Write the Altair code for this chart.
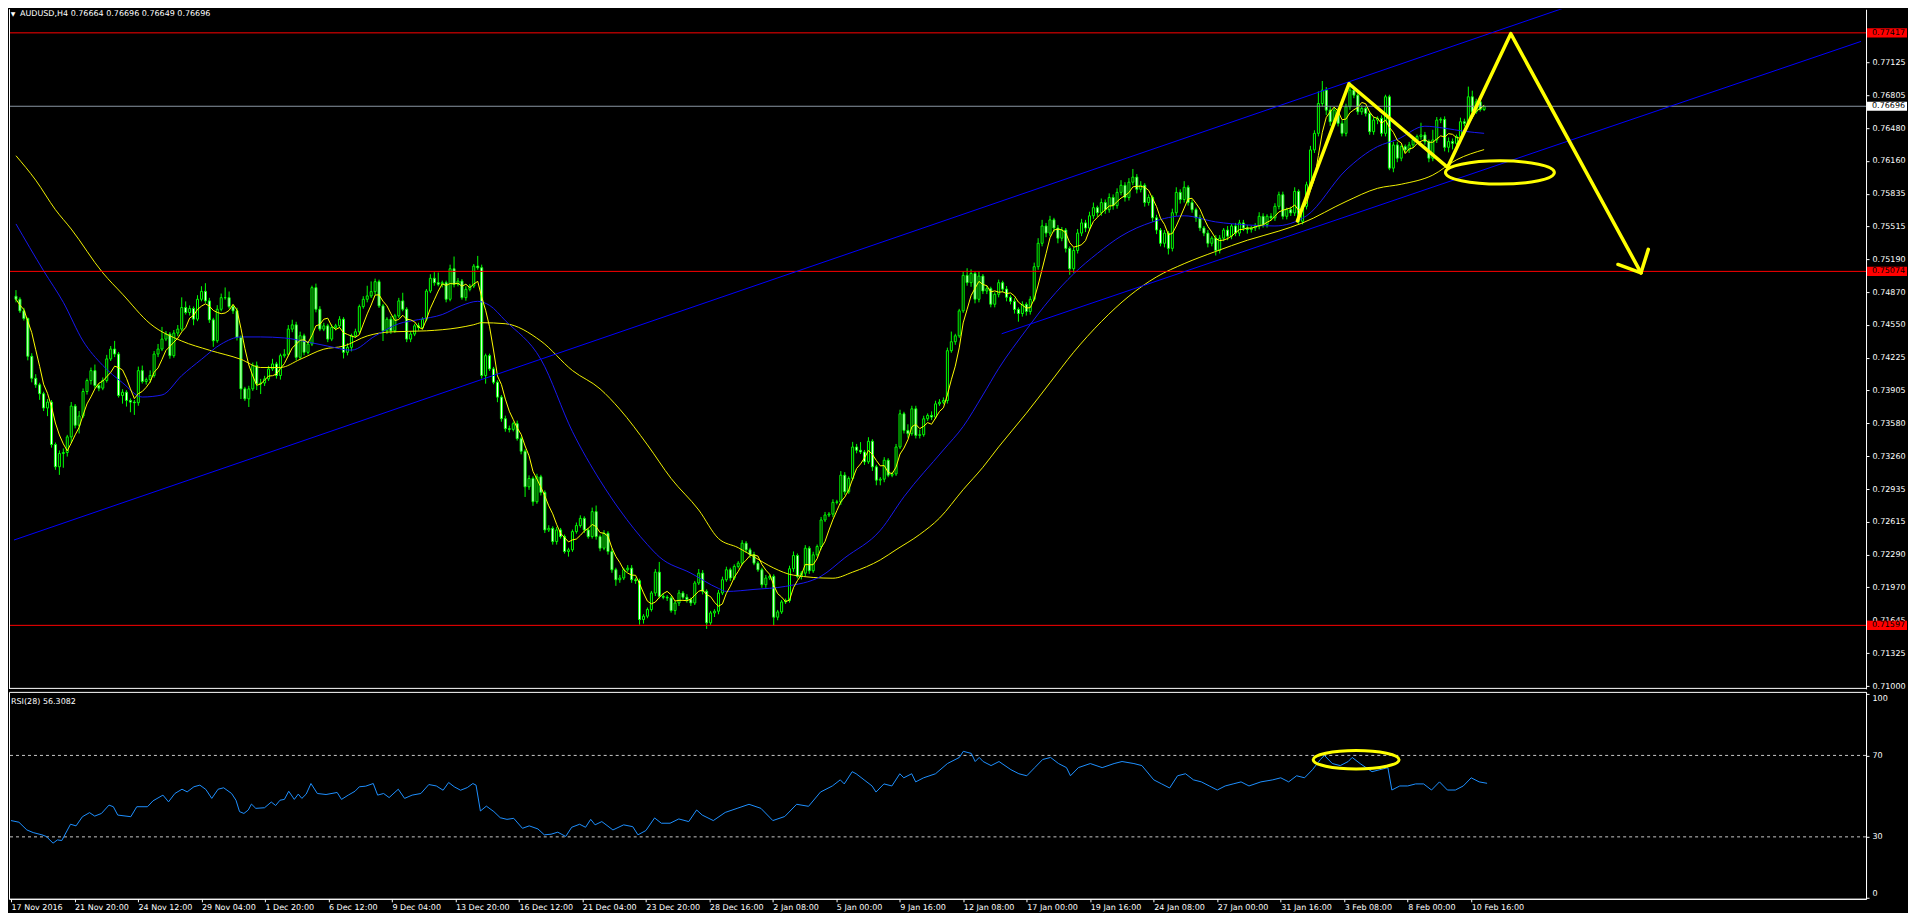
import json
import altair as alt
import pandas as pd

# ------------------------------------------------------------------ data
title_text = "AUDUSD,H4  0.76664 0.76696 0.76649 0.76696"
rsi_text = "RSI(28) 56.3082"

first_open = 0.74830
# H4 closes, in 1e-5 units (bar 0 = 17 Nov 2016 00:00)
close_pts = [
    74800, 74686, 74611, 74240, 74024, 73960, 73872, 73732, 73790, 73373,
    73155, 73285, 73295, 73448, 73751, 73562, 73653, 73894, 74002, 74099,
    73953, 73927, 74002, 74214, 74311, 74262, 73855, 73887, 73806, 73790,
    73784, 74099, 73992, 74011, 74051, 74262, 74311, 74409, 74458, 74246,
    74468, 74507, 74719, 74670, 74709, 74605, 74800, 74878, 74784, 74598,
    74393, 74702, 74816, 74816, 74728, 74686, 74425, 73920, 73822, 73920,
    74148, 73969, 73978, 74018, 74116, 74165, 74051, 74246, 74260, 74507,
    74549, 74230, 74442, 74279, 74360, 74914, 74702, 74507, 74539, 74409,
    74523, 74539, 74604, 74279, 74328, 74442, 74481, 74728, 74800, 74833,
    74875, 74973, 74735, 74490, 74604, 74490, 74637, 74784, 74702, 74409,
    74458, 74539, 74523, 74604, 74881, 75006, 74963, 74947, 74963, 74800,
    75100, 74947, 74979, 74816, 74898, 74930, 75126, 75110, 74051, 74246,
    74116, 73985, 73839, 73627, 73529, 73522, 73578, 73431, 73307, 72958,
    73040, 72811, 73056, 72903, 72534, 72550, 72420, 72534, 72469, 72322,
    72339, 72518, 72577, 72648, 72534, 72469, 72714, 72469, 72355, 72502,
    72322, 72143, 72045, 72062, 72143, 72159, 72045, 72035, 71654, 71687,
    71752, 71915, 72120, 71882, 71873, 71866, 71742, 71817, 71915, 71873,
    71850, 71817, 72013, 72110, 71931, 71622, 71719, 71736, 71915, 72045,
    72143, 72062, 72176, 72208, 72404, 72339, 72290, 72208, 72143, 71996,
    72062, 72078, 71677, 71729, 71827, 71840, 72153, 72283, 72078, 72110,
    72355, 72133, 72290, 72371, 72632, 72681, 72690, 72805, 72810, 73072,
    72909, 73040, 73349, 73317, 73300, 73203, 73405, 73154, 73023, 73033,
    73219, 73072, 73085, 73349, 73675, 73512, 73480, 73724, 73463, 73470,
    73626, 73659, 73643, 73773, 73789, 73806, 74295, 74383, 74441, 74686,
    75035, 74963, 75054, 74800, 75028, 74881, 74904, 74751, 74849, 74963,
    74900, 74820, 74780, 74700, 74660, 74750, 74680, 74800, 75120, 75350,
    75520, 75450, 75580, 75500, 75400, 75480, 75300, 75100, 75280, 75450,
    75550, 75500, 75620, 75700, 75650, 75750, 75680, 75800, 75720, 75850,
    75920, 75800, 75950, 76000, 75880, 75920, 75750, 75800, 75600, 75480,
    75350, 75450, 75300, 75650, 75850, 75780, 75900, 75750, 75680, 75600,
    75500, 75450, 75350, 75400, 75280, 75400, 75480, 75420, 75520, 75450,
    75550, 75500, 75485, 75501, 75517, 75615, 75534, 75615, 75600, 75713,
    75827, 75615, 75680, 75648, 75860, 75566, 75713, 75925, 76267, 76430,
    76723, 76854, 76658, 76544, 76658, 76528, 76430, 76691, 76854, 76805,
    76642, 76675, 76626, 76446, 76560, 76577, 76430, 76789, 76088, 76316,
    76186, 76300, 76267, 76316, 76365, 76398, 76414, 76349, 76186, 76365,
    76560, 76567, 76293, 76349, 76332, 76398, 76544, 76528, 76789, 76642,
    76740, 76664, 76696,
]
# upper / lower wick lengths in pips
wick_up = [
    6, 2, 3, 1, 3, 4, 2, 2, 3, 2,  2, 3, 4, 2, 4, 2, 5, 3, 2, 3,
    6, 2, 3, 4, 3, 8, 2, 3, 2, 2,  2, 4, 5, 2, 5, 3, 5, 12, 3, 2,
    3, 4, 10, 6, 3, 2, 4, 5, 8, 3,  2, 4, 4, 10, 6, 2, 3, 2, 2, 3,
    3, 4, 4, 3, 3, 5, 2, 2, 5, 4,  5, 3, 4, 2, 3, 2, 4, 3, 3, 2,
    3, 2, 3, 2, 4, 2, 3, 2, 3, 10,  10, 3, 2, 2, 2, 3, 2, 3, 8, 2,
    2, 2, 3, 2, 2, 4, 6, 10, 2, 2,  4, 12, 3, 2, 3, 2, 2, 10, 3, 2,
    2, 2, 2, 2, 3, 3, 2, 3, 2, 2,  3, 2, 3, 2, 2, 3, 2, 3, 2, 2,
    2, 2, 3, 3, 2, 2, 4, 6, 2, 3,  2, 3, 2, 3, 2, 3, 3, 2, 2, 2,
    2, 2, 3, 10, 3, 2, 2, 2, 3, 2,  3, 2, 2, 4, 3, 2, 2, 2, 3, 3,
    3, 2, 2, 2, 3, 2, 2, 3, 2, 2,  3, 2, 2, 2, 2, 2, 3, 4, 2, 2,
    3, 2, 3, 2, 3, 3, 2, 3, 2, 4,  3, 2, 5, 3, 8, 2, 4, 2, 2, 2,
    3, 2, 2, 3, 4, 2, 6, 3, 3, 5,  3, 2, 4, 3, 3, 3, 3, 10, 2, 2,
    4, 7, 4, 2, 4, 2, 3, 2, 2, 3,  2, 3, 2, 3, 2, 3, 2, 3, 4, 5,
    6, 3, 4, 2, 3, 3, 2, 2, 3, 4,  4, 3, 4, 5, 2, 4, 3, 4, 3, 4,
    5, 3, 4, 8, 3, 4, 2, 3, 2, 3,  2, 3, 2, 4, 5, 3, 6, 2, 3, 2,
    3, 2, 3, 2, 3, 3, 2, 4, 2, 3,  3, 3, 3, 2, 3, 4, 3, 2, 3, 3,
    3, 3, 2, 3, 4, 2, 2, 3, 4, 3,  12, 9, 3, 4, 3, 2, 3, 3, 8, 3,
    4, 3, 2, 2, 3, 2, 3, 2, 2, 3,  3, 2, 2, 3, 3, 2, 12, 3, 2, 10,
    3, 2, 3, 4, 3, 2, 4, 3, 10, 6,  3, 2, 0,
]
wick_dn = [
    3, 2, 2, 4, 4, 3, 6, 3, 8, 3,  3, 8, 14, 4, 6, 3, 8, 2, 3, 4,
    3, 3, 2, 2, 2, 3, 2, 8, 6, 10,  12, 3, 2, 3, 3, 2, 3, 2, 2, 3,
    2, 3, 2, 2, 3, 6, 2, 2, 2, 3,  6, 2, 2, 2, 2, 3, 3, 10, 2, 8,
    2, 6, 10, 3, 2, 2, 3, 4, 2, 2,  3, 3, 2, 3, 2, 2, 3, 2, 2, 3,
    2, 3, 2, 6, 3, 4, 2, 2, 2, 3,  2, 3, 2, 10, 3, 3, 2, 2, 2, 3,
    3, 2, 3, 2, 2, 2, 3, 2, 3, 3,  2, 3, 2, 2, 3, 2, 2, 2, 3, 8,
    2, 2, 5, 3, 3, 3, 2, 2, 3, 10,  3, 4, 2, 3, 3, 2, 3, 3, 2, 2,
    5, 2, 2, 2, 3, 2, 2, 3, 3, 2,  3, 3, 6, 3, 2, 2, 3, 3, 5, 4,
    2, 2, 3, 2, 2, 3, 2, 4, 3, 2,  3, 3, 2, 2, 3, 6, 2, 4, 3, 2,
    2, 3, 2, 2, 2, 3, 3, 2, 2, 3,  3, 2, 8, 3, 2, 2, 2, 3, 2, 3,
    3, 3, 2, 2, 3, 2, 2, 3, 2, 3,  3, 2, 2, 3, 2, 3, 2, 4, 5, 5,
    3, 2, 2, 2, 2, 3, 4, 2, 3, 3,  2, 2, 3, 2, 2, 2, 3, 2, 3, 2,
    2, 3, 4, 4, 3, 3, 3, 3, 3, 3,  3, 4, 3, 4, 8, 3, 4, 3, 2, 3,
    3, 4, 3, 4, 5, 3, 4, 6, 4, 3,  3, 4, 3, 3, 4, 3, 4, 3, 4, 3,
    3, 4, 3, 3, 4, 3, 4, 3, 4, 4,  3, 4, 6, 3, 3, 4, 3, 3, 3, 4,
    3, 3, 4, 3, 5, 3, 3, 4, 3, 3,  3, 3, 4, 3, 3, 3, 3, 3, 3, 3,
    3, 3, 3, 3, 3, 3, 3, 3, 3, 3,  3, 3, 5, 4, 3, 3, 3, 3, 3, 3,
    3, 3, 3, 3, 3, 4, 3, 3, 2, 4,  4, 3, 3, 3, 3, 3, 3, 3, 4, 3,
    3, 3, 4, 5, 6, 3, 3, 3, 3, 3,  2, 2, 1.5,
]

x_labels = ["17 Nov 2016", "21 Nov 20:00", "24 Nov 12:00", "29 Nov 04:00",
            "1 Dec 20:00", "6 Dec 12:00", "9 Dec 04:00", "13 Dec 20:00",
            "16 Dec 12:00", "21 Dec 04:00", "23 Dec 20:00", "28 Dec 16:00",
            "2 Jan 08:00", "5 Jan 00:00", "9 Jan 16:00", "12 Jan 08:00",
            "17 Jan 00:00", "19 Jan 16:00", "24 Jan 08:00", "27 Jan 00:00",
            "31 Jan 16:00", "3 Feb 08:00", "8 Feb 00:00", "10 Feb 16:00"]
bars_per_label = 16
price_ticks = [0.77125, 0.76805, 0.76480, 0.76160, 0.75835, 0.75515, 0.75190,
               0.74870, 0.74550, 0.74225, 0.73905, 0.73580, 0.73260, 0.72935,
               0.72615, 0.72290, 0.71970, 0.71645, 0.71325, 0.71000]
red_levels = [0.77417, 0.75074, 0.71597]
bid_level = [0.76696]

blue_bars = [0, 7, 12, 17, 22, 27, 32, 37, 42, 47, 52, 57, 62, 68, 74, 79, 85, 91, 97, 102,
             108, 113, 117, 120, 124, 133, 141, 148, 153, 160, 163, 171, 178, 180, 187, 195,
             204, 210, 219, 225, 235, 240, 245, 249, 256, 262, 268, 274, 280, 288, 296, 304,
             312, 319, 327, 337, 345, 350, 357, 362, 367, 372]
blue_vals = [0.7554, 0.7508, 0.7477, 0.7439, 0.7415, 0.7398, 0.7384, 0.7386, 0.7405, 0.7421,
             0.7436, 0.7443, 0.7443, 0.7442, 0.7438, 0.7434, 0.7430, 0.7444, 0.7456, 0.7460,
             0.7465, 0.7474, 0.7478, 0.7474, 0.7459, 0.7421, 0.7350, 0.7302, 0.7273, 0.7239,
             0.7227, 0.7211, 0.7196, 0.7193, 0.7195, 0.7198, 0.7208, 0.7226, 0.7253, 0.7286,
             0.7332, 0.7355, 0.7386, 0.7412, 0.7450, 0.7480, 0.7505, 0.7525, 0.7542, 0.7556,
             0.7562, 0.7556, 0.7553, 0.7552, 0.7562, 0.7607, 0.7630, 0.7637, 0.7650, 0.7648,
             0.7645, 0.7643]
slow_bars = [0, 5, 10, 14, 22, 27, 34, 42, 49, 57, 62, 67, 72, 78, 83, 89, 95, 104, 112, 116,
             118, 124, 133, 141, 148, 153, 160, 166, 173, 178, 183, 187, 192, 197, 207, 212,
             219, 223, 229, 234, 240, 245, 249, 256, 262, 268, 275, 282, 289, 296, 304, 312,
             320, 326, 337, 345, 351, 359, 365, 372]
slow_vals = [0.7621, 0.7597, 0.7568, 0.7549, 0.7506, 0.7485, 0.7456, 0.7439, 0.7430, 0.7421,
             0.7413, 0.7413, 0.7421, 0.7431, 0.7434, 0.7444, 0.7448, 0.7449, 0.7452, 0.7455,
             0.7457, 0.7456, 0.7439, 0.7410, 0.7392, 0.7372, 0.7337, 0.7304, 0.7273, 0.7245,
             0.7236, 0.7227, 0.7216, 0.7209, 0.7206, 0.7212, 0.7224, 0.7234, 0.7249, 0.7265,
             0.7293, 0.7315, 0.7335, 0.7368, 0.7398, 0.7428, 0.7458, 0.7483, 0.7502, 0.7515,
             0.7527, 0.7538, 0.7547, 0.7555, 0.7576, 0.7589, 0.7593, 0.7602, 0.7617, 0.7627]

rsi_bars = [0, 2, 4, 5.6, 7.8, 8.9, 10.6, 11.7, 12.8, 15, 16.4, 18, 19.8, 21.1, 22.8, 24.7,
            25.8, 26.9, 30.2, 31.7, 34.4, 35.8, 38.3, 39.7, 41.3, 43.1, 44.4, 46.1, 47.6,
            49.1, 50.6, 52.2, 53.6, 55.6, 56.7, 57.6, 58.7, 59.8, 60.6, 61.7, 63.9, 65.6,
            66.7, 67.8, 68.9, 70, 71.4, 72.4, 73.3, 74.4, 75.6, 77.2, 79.4, 82.2, 83.3, 85,
            86.7, 87.8, 89.4, 91.3, 92.4, 93.9, 95.3, 97.6, 99.2, 101.1, 103.3, 105.3, 107.2,
            108.9, 110.3, 111.7, 113.3, 115, 116.4, 117.2, 118.3, 119.8, 121.7, 123.3, 125,
            126.7, 128.9, 130.6, 132.8, 134.4, 136.1, 137.8, 139.8, 141.3, 143.3, 144.8,
            146.1, 147.2, 148.9, 151.7, 154.4, 156.7, 158, 160, 162.2, 163.9, 166.1, 168.3,
            170.8, 172.8, 174.2, 177, 180, 183, 186, 189, 192, 195, 198, 201, 204, 207, 209,
            210, 212, 213, 215, 217, 218, 220, 222, 224, 225, 227, 228, 230, 233, 236, 239,
            240, 242, 243, 244, 245, 247, 249, 252, 254, 256, 258, 260, 262, 264, 266, 267,
            269, 272, 275, 278, 280, 283, 285, 288, 290, 292, 294, 296, 298, 300, 302, 304,
            306, 308, 310, 312, 315, 318, 320, 322, 324, 326, 328, 330, 331, 333, 335, 337,
            338, 340, 343, 345, 347, 348, 350, 352, 354, 356, 358, 360, 362, 364, 366, 368,
            370, 372]
rsi_vals = [38, 37.2, 33.4, 32.1, 31, 30.2, 26.9, 28.5, 28.2, 36.2, 35.4, 39.9, 41.9, 40.2,
            41.5, 45.6, 44.8, 40.7, 39.9, 44.8, 44.8, 47.7, 50.5, 47.2, 51.3, 53.4, 52.1,
            54.6, 55.4, 53.3, 48.9, 53.4, 54.1, 51.3, 48, 42.4, 41.5, 43.2, 46.1, 44, 44.3,
            47.1, 45.4, 48, 48.4, 52.4, 48.4, 51, 48.9, 51, 56.2, 51.3, 50.8, 51.8, 48.4,
            50.5, 52.4, 54.6, 54.9, 56.2, 50.5, 51.3, 49.3, 53.4, 48.9, 50.5, 51.3, 55.7, 55,
            52.9, 56.7, 54.6, 52.9, 54.2, 56.2, 55.4, 42.7, 45.1, 42.4, 39.4, 38.6, 39.1,
            34.2, 35.4, 33.9, 31, 31.3, 32.3, 30.2, 34.7, 36.2, 34.7, 38.6, 35.9, 37.5, 33.4,
            35.9, 35, 31, 33.1, 39.3, 36.7, 36.7, 38.8, 37.5, 43.2, 40.7, 38, 42, 44, 46, 44,
            38, 40, 46, 45, 52, 55, 58, 56, 62, 61, 58, 55, 52, 56, 55, 61, 59, 61, 57, 59,
            61, 66, 69, 72, 71, 67, 69, 67, 65, 67, 63, 61, 60, 64, 68, 69, 66, 64, 60, 64,
            66, 64, 66, 67, 66, 65, 58, 56, 54, 60, 61, 58, 57, 55, 53, 55, 56, 57, 55, 57,
            58, 59, 57, 60, 59, 63, 68, 70, 66, 65, 67, 69, 66, 62, 63, 64, 53, 55, 55, 56,
            56, 53, 57, 53, 53, 55, 59, 57, 56.3]
rsi_levels = [70, 30]
rsi_ticks = [100, 70, 30, 0]

# channel (two parallel blue trend lines) and the drawn yellow pattern
upper_bars, upper_prices = [-0.5, 467.5], [0.72435, 0.78663]
lower_bars, lower_prices = [249.75, 467.5], [0.74461, 0.77333]
zz_bars = [324.7, 337.75, 362.75, 378.75, 411.75]
zz_prices = [0.75570, 0.76917, 0.76096, 0.77409, 0.75060]
barb1_bars, barb1_prices = [405.9, 411.75], [0.75142, 0.75060]
barb2_bars, barb2_prices = [413.6, 411.75], [0.75290, 0.75060]
ellipse_price = {"bar": [376], "p": [0.76046]}
ellipse_rsi = {"bar": [339], "v": [67.9]}

# ------------------------------------------------------------------ tables
closes = [c / 1e5 for c in close_pts]
opens = [first_open] + closes[:-1]
rows = []
for i, (o, c) in enumerate(zip(opens, closes)):
    rows.append(dict(bar=i, open=o, close=c, blo=min(o, c), bhi=max(o, c),
                     high=max(o, c) + wick_up[i] / 1e4,
                     low=min(o, c) - wick_dn[i] / 1e4))
candles = pd.DataFrame(rows)

chan = pd.DataFrame({"seg": ["u", "u", "l", "l"],
                     "bar": upper_bars + lower_bars,
                     "p": upper_prices + lower_prices})
zz = pd.DataFrame({
    "seg": ["z"] * len(zz_bars) + ["b1", "b1", "b2", "b2"],
    "ord": list(range(len(zz_bars))) + [0, 1, 0, 1],
    "bar": zz_bars + barb1_bars + barb2_bars,
    "p": zz_prices + barb1_prices + barb2_prices})

# ------------------------------------------------------------------ style
W, H1, H2 = 1858, 680, 207
FONT, FS = "DejaVu Sans", 8
LIME, WHITE, RED, YEL = "#00FF00", "#FFFFFF", "#FF0000", "#FFFF00"
ELLIPSE = "M -1 0 A 1 0.214 0 1 1 1 0 A 1 0.214 0 1 1 -1 0 Z"
BOX = "M -1 -0.23 L 1 -0.23 L 1 0.23 L -1 0.23 Z"

xs = alt.Scale(domain=[-0.5, 467.5], nice=False, zero=False)
ys = alt.Scale(domain=[0.70973, 0.77649], nice=False, zero=False)
rs = alt.Scale(domain=[-0.4, 101.2], nice=False, zero=False)

price_axis = alt.Axis(orient="right", values=price_ticks, format=".5f", title=None,
                      grid=False, domainColor=WHITE, tickColor=WHITE, tickSize=3,
                      labelColor=WHITE, labelFont=FONT, labelFontSize=FS,
                      labelPadding=3, labelAlign="left", labelBaseline="middle",
                      labelOverlap=False, labelFlush=False)
label_expr = json.dumps(x_labels) + f"[round(datum.value / {bars_per_label})]"
time_axis = alt.Axis(orient="bottom", values=[i * bars_per_label for i in range(len(x_labels))],
                     labelExpr=label_expr, title=None, grid=False, domainColor=WHITE,
                     tickColor=WHITE, tickSize=3, labelColor=WHITE, labelFont=FONT,
                     labelFontSize=FS, labelAlign="left", labelBaseline="top",
                     labelPadding=2, labelOverlap=False, labelFlush=False)
rsi_axis = alt.Axis(orient="right", values=rsi_ticks, format="d", title=None, grid=False,
                    domainColor=WHITE, tickColor=WHITE, tickSize=3, labelColor=WHITE,
                    labelFont=FONT, labelFontSize=FS, labelPadding=3, labelAlign="left",
                    labelFlush=5, labelOverlap=False)


def X(f="bar"):
    return alt.X(f"{f}:Q", scale=xs, axis=None)


def Yp(f):
    return alt.Y(f"{f}:Q", scale=ys, axis=price_axis)


def Xr(f="bar"):
    return alt.X(f"{f}:Q", scale=xs, axis=time_axis)


def Yr(f="v"):
    return alt.Y(f"{f}:Q", scale=rs, axis=rsi_axis)


# ------------------------------------------------------------------ main panel
wicks = alt.Chart(candles).mark_rule(color=LIME, strokeWidth=1).encode(
    x=X(), y=Yp("low"), y2="high:Q")
bodies = alt.Chart(candles).mark_bar(size=2, stroke=LIME, strokeWidth=1).encode(
    x=X(), y=Yp("blo"), y2="bhi:Q",
    fill=alt.condition(alt.datum.close >= alt.datum.open,
                       alt.value("#000000"), alt.value(WHITE)))
fast = alt.Chart(candles).transform_window(
    fast="mean(close)", frame=[-4, 0], sort=[alt.SortField("bar")]
).mark_line(color=YEL, strokeWidth=1).encode(x=X(), y=Yp("fast"))
slow = alt.Chart(pd.DataFrame({"bar": slow_bars, "p": slow_vals})).mark_line(
    color="#F0F000", strokeWidth=1, interpolate="monotone").encode(x=X(), y=Yp("p"))
blue = alt.Chart(pd.DataFrame({"bar": blue_bars, "p": blue_vals})).mark_line(
    color="#1818F0", strokeWidth=1, interpolate="monotone").encode(x=X(), y=Yp("p"))
reds = alt.Chart(pd.DataFrame({"p": red_levels})).mark_rule(color=RED, strokeWidth=1).encode(
    y=Yp("p"))
bid = alt.Chart(pd.DataFrame({"p": bid_level})).mark_rule(color="#8A96A4", strokeWidth=1).encode(
    y=Yp("p"))
channel = alt.Chart(chan).mark_line(color="#0000FF", strokeWidth=1, clip=True).encode(
    x=X(), y=Yp("p"), detail="seg:N")
pattern = alt.Chart(zz).mark_line(color=YEL, strokeWidth=3.5, strokeJoin="round",
                                  strokeCap="round").encode(
    x=X(), y=Yp("p"), detail="seg:N", order="ord:Q")
ell1 = alt.Chart(pd.DataFrame(ellipse_price)).mark_point(
    shape=ELLIPSE, size=109 * 109, filled=False, color=YEL, strokeWidth=3, opacity=1
).encode(x=X(), y=Yp("p"))
red_boxes = alt.Chart(pd.DataFrame({"p": red_levels})).mark_point(
    shape=BOX, size=40 * 40, filled=True, color=RED, opacity=1
).encode(x=alt.value(W + 21), y=Yp("p"))
bid_box = alt.Chart(pd.DataFrame({"p": bid_level})).mark_point(
    shape=BOX, size=40 * 40, filled=True, color=WHITE, opacity=1
).encode(x=alt.value(W + 21), y=Yp("p"))
box_text = alt.Chart(pd.DataFrame({"p": red_levels + bid_level})).mark_text(
    align="left", baseline="middle", font=FONT, fontSize=FS, color="#000000"
).encode(x=alt.value(W + 6), y=Yp("p"), text=alt.Text("p:Q", format=".5f"))
title = alt.Chart(pd.DataFrame({"t": [title_text]})).mark_text(
    align="left", baseline="middle", font=FONT, fontSize=FS, color=WHITE
).encode(x=alt.value(11), y=alt.value(5), text="t:N")
tri = alt.Chart(pd.DataFrame({"t": ["\u25bc"]})).mark_text(
    align="center", baseline="middle", font="DejaVu Sans", fontSize=6, color=WHITE
).encode(x=alt.value(4), y=alt.value(5), text="t:N")
left_border = alt.Chart(pd.DataFrame({"k": [0]})).mark_rule(color=WHITE, strokeWidth=1).encode(
    x=alt.value(0.5), y=alt.value(0), y2=alt.value(H1))
bottom_border = alt.Chart(pd.DataFrame({"k": [0]})).mark_rule(color=WHITE, strokeWidth=1).encode(
    y=alt.value(H1 - 0.5), x=alt.value(0), x2=alt.value(W))

main = alt.layer(
    wicks, bodies, slow, blue, fast, reds, bid, channel, pattern, ell1,
    red_boxes, bid_box, box_text, title, tri, left_border, bottom_border
).properties(width=W, height=H1)

# ------------------------------------------------------------------ RSI panel
rsi_line = alt.Chart(pd.DataFrame({"bar": rsi_bars, "v": rsi_vals})).mark_line(
    color="#1E90FF", strokeWidth=1).encode(x=Xr(), y=Yr())
rsi_lv = alt.Chart(pd.DataFrame({"v": rsi_levels})).mark_rule(
    color="#C8C8C8", strokeWidth=1, strokeDash=[3, 3]).encode(y=Yr())
ell2 = alt.Chart(pd.DataFrame(ellipse_rsi)).mark_point(
    shape=ELLIPSE, size=86 * 86, filled=False, color=YEL, strokeWidth=3, opacity=1
).encode(x=Xr(), y=Yr())
rsi_title = alt.Chart(pd.DataFrame({"t": [rsi_text]})).mark_text(
    align="left", baseline="middle", font=FONT, fontSize=FS, color=WHITE
).encode(x=alt.value(2), y=alt.value(10), text="t:N")

rsi = alt.layer(rsi_lv, rsi_line, ell2, rsi_title).properties(
    width=W, height=H2, view=alt.ViewBackground(stroke=WHITE, strokeWidth=1))

chart = alt.vconcat(main, rsi, spacing=3, bounds="flush").properties(
    padding=0, background="#000000"
).configure_view(stroke="transparent")

chart.save("out.html", embed_options={"renderer": "svg", "actions": False})
